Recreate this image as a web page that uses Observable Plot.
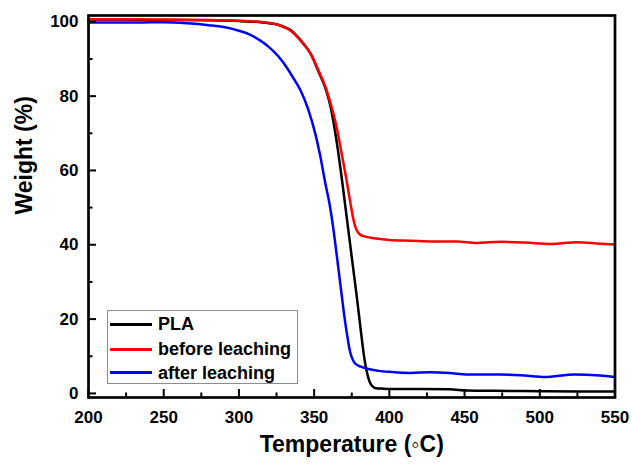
<!DOCTYPE html>
<html>
<head>
<meta charset="utf-8">
<script src="https://cdn.jsdelivr.net/npm/d3@7"></script>
<script src="https://cdn.jsdelivr.net/npm/@observablehq/plot@0.6"></script>
<style>
  body { margin: 0; background: #fff; }
  #chart { position: relative; width: 632px; height: 466px; }
  .legend {
    position: absolute; left: 107px; top: 310px; width: 191px; height: 74px;
    box-sizing: border-box; border: 1px solid #8c8c8c; background: #fff;
    font: bold 18px "Liberation Sans", Arial, sans-serif; color: #000;
  }
  .legend .swatch { position: absolute; left: 1.5px; width: 42px; height: 3px; }
  .legend .name { position: absolute; left: 50px; height: 20px; line-height: 20px; white-space: nowrap; }
</style>
</head>
<body>
<div id="chart"></div>
<script>
// TGA curves: weight (%) against temperature (°C)
const plaT = [200, 220, 250, 280, 300, 310, 320, 326, 330, 335, 341, 348, 353, 358, 361, 363.5, 366, 368.5, 371, 373.5, 376, 378.5, 381, 383, 385, 387, 389, 391, 395, 401, 420, 440, 452, 470, 500, 530, 550];
const plaW = [100.6, 100.6, 100.5, 100.4, 100.2, 100.0, 99.6, 99.2, 98.6, 97.6, 95.0, 91.2, 86.5, 81.5, 77, 71.5, 65, 57.5, 49.5, 41.5, 33.5, 25.5, 17, 10.5, 5.8, 3, 1.8, 1.4, 1.3, 1.2, 1.2, 1.1, 0.8, 0.7, 0.6, 0.5, 0.5];

const beforeT = [200, 220, 250, 280, 300, 310, 320, 326, 330, 334.4, 341, 347.7, 353, 357.7, 361, 364.3, 366.5, 369, 371.5, 374, 376, 377.5, 379, 381, 384, 387.6, 393, 400, 414, 430, 445, 458, 474, 490, 507, 525, 540, 550];
const beforeW = [100.7, 100.7, 100.6, 100.5, 100.3, 100.1, 99.7, 99.2, 98.6, 97.6, 95, 91.4, 86.8, 82.3, 78, 72.8, 68.5, 63, 57.5, 51.5, 47, 44.7, 43.4, 42.6, 42.2, 41.9, 41.6, 41.3, 41.1, 40.9, 40.9, 40.5, 40.8, 40.6, 40.2, 40.7, 40.3, 40.1];

const afterT = [200, 233, 250, 266, 280, 290, 300, 307, 314, 320, 326, 331, 336, 341, 346, 351, 354, 357.7, 360, 362, 364, 366, 368, 370, 372, 374, 376, 378, 381, 387, 394, 400, 414, 427, 440, 452, 474, 490, 503, 523, 540, 550];
const afterW = [99.8, 99.8, 99.9, 99.6, 99.1, 98.6, 97.6, 96.6, 95.0, 93.2, 90.8, 88.2, 85, 81.5, 76.5, 69.5, 64, 56, 51.5, 46.5, 40.5, 34, 27.5, 21, 15.5, 11, 8.8, 7.8, 7.2, 6.5, 6, 5.8, 5.5, 5.7, 5.5, 5.1, 5.1, 4.8, 4.4, 5.1, 4.8, 4.4];

const seriesNames = ["PLA", "before leaching", "after leaching"];
const seriesColors = ["#000000", "#ff0000", "#0000ff"];

const xMajor = [200, 250, 300, 350, 400, 450, 500, 550];
const xMinor = [225, 275, 325, 375, 425, 475, 525];
const yMajor = [0, 20, 40, 60, 80, 100];
const yMinor = [10, 30, 50, 70, 90];

const toRows = (T, W) => T.map((t, i) => ({T: t, W: W[i]}));
const series = [toRows(plaT, plaW), toRows(beforeT, beforeW), toRows(afterT, afterW)];

const font = '"Liberation Sans", Arial, sans-serif';

const chart = Plot.plot({
  width: 632,
  height: 466,
  marginLeft: 88,
  marginRight: 17.5,
  marginTop: 15,
  marginBottom: 69,
  x: {domain: [200, 550]},
  y: {domain: [-1.1, 101.7]},
  style: {fontFamily: font, fontSize: "17px", fontWeight: "bold", color: "#000", background: "#fff"},
  marks: [
    ...series.map((rows, i) => Plot.line(rows, {x: "T", y: "W", stroke: seriesColors[i], strokeWidth: 2.5, curve: "monotone-x"})),
    Plot.frame({stroke: "#000", strokeWidth: 2.7}),
    // inward ticks
    Plot.axisX(xMajor, {tickSize: -8, strokeWidth: 2, tickFormat: () => "", label: null}),
    Plot.axisX(xMinor, {tickSize: -4.5, strokeWidth: 2, tickFormat: () => "", label: null}),
    Plot.axisY(yMajor, {tickSize: -8, strokeWidth: 2, tickFormat: () => "", label: null}),
    Plot.axisY(yMinor, {tickSize: -4.5, strokeWidth: 2, tickFormat: () => "", label: null}),
    // tick labels
    Plot.axisX(xMajor, {tickSize: 0, tickPadding: 13, label: null}),
    Plot.axisY(yMajor, {tickSize: 0, tickPadding: 10, label: null}),
    // axis titles
    Plot.text(["Temperature (\u25E6C)"], {text: d => d, frameAnchor: "bottom", dy: 54.5, fontSize: 23}),
    Plot.text(["Weight (%)"], {text: d => d, frameAnchor: "left", dx: -63.8, dy: 8, rotate: -90, fontSize: 23})
  ]
});

const host = document.getElementById("chart");
host.appendChild(chart);

// legend box inside the plot area
const legend = document.createElement("div");
legend.className = "legend";
const rowCenters = [13.3, 38.3, 61.7];
seriesNames.forEach((name, i) => {
  const sw = document.createElement("div");
  sw.className = "swatch";
  sw.style.top = (rowCenters[i] - 1.5) + "px";
  sw.style.background = seriesColors[i];
  const label = document.createElement("div");
  label.className = "name";
  label.style.top = (rowCenters[i] - 10) + "px";
  label.textContent = name;
  legend.appendChild(sw);
  legend.appendChild(label);
});
host.appendChild(legend);
</script>
</body>
</html>
